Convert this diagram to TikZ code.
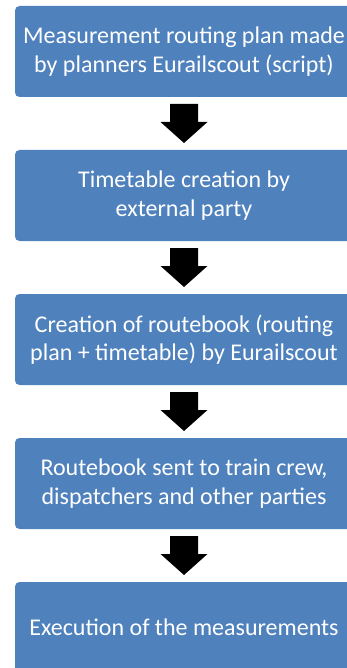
\documentclass[tikz,border=0pt]{standalone}
\usepackage{fontspec}
\setmainfont{Carlito}
\usetikzlibrary{calc}
\definecolor{stepblue}{HTML}{4F81BD}

\begin{document}
\begin{tikzpicture}[x=1pt,y=-1pt,
  stepbox/.style={fill=stepblue, draw=none, rounded corners=4.5pt,
    minimum width=338pt, minimum height=91pt, inner sep=0pt,
    align=center, text=white, font=\fontsize{24}{28.5}\selectfont},
  blockarrow/.style={fill=black, draw=none}]
  \useasboundingbox (0,0) rectangle (347,668);
  \clip (0,0) rectangle (347,668);
  % steps
  \node[stepbox] (plan) at (184,51.5) {Measurement routing plan made\\by planners Eurailscout (script)};
  \node[stepbox] (timetable) at (184,195.5) {Timetable creation by\\external party};
  \node[stepbox] (routebook) at (184,339.5) {Creation of routebook (routing\\plan + timetable) by Eurailscout};
  \node[stepbox] (sent) at (184,483.5) {Routebook sent to train crew,\\dispatchers and other parties};
  \node[stepbox] (execution) at (184,627.5) {Execution of the measurements};
  % block arrows between the steps
  \foreach \from/\to in {plan/timetable,timetable/routebook,routebook/sent,sent/execution}{
    \coordinate (m) at ($(\from.south)!0.5!(\to.north)$);
    \fill[blockarrow] ($(m)+(-14,-19.5)$) -- ($(m)+(14,-19.5)$) -- ($(m)+(14,-1.5)$)
      -- ($(m)+(23.5,-1.5)$) -- ($(m)+(0,19.5)$) -- ($(m)+(-23.5,-1.5)$)
      -- ($(m)+(-14,-1.5)$) -- cycle;
  }
\end{tikzpicture}
\end{document}
